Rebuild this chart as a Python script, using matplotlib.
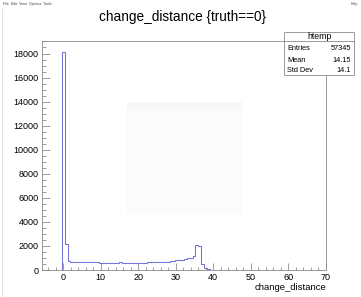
import numpy as np
import matplotlib
matplotlib.use("Agg")
import matplotlib.pyplot as plt
from matplotlib.patches import Rectangle
from matplotlib.ticker import MultipleLocator

# histogram "htemp": 100 bins on [-5.6, 70]
x_min, x_max, n_bins = -5.6, 70.0, 100
counts = [
    0, 0, 0, 0, 0, 0, 0,
    18130, 2150,
    720, 690, 680, 670, 700, 650, 680, 640, 650, 630,
    640, 620, 610, 620, 590, 580, 560, 590, 630, 600,
    590, 600, 590, 600, 600, 610, 600, 620, 640, 630,
    660, 650, 680, 670, 700, 690, 720, 740, 800, 830,
    870, 900, 980, 1020, 1150,
    2080, 2030, 480, 180,
    50, 40, 40, 30, 30,
]
counts = counts + [0] * (n_bins - len(counts))
edges = np.linspace(x_min, x_max, n_bins + 1)

stats_rows = [("Entries", "57345"), ("Mean", "14.15"), ("Std Dev", "14.1")]
menu_items = "File  Edit  View  Options  Tools"

W, H = 361, 297
fig = plt.figure(figsize=(W / 100, H / 100), dpi=100)
fig.patch.set_facecolor("white")
plt.rcParams["font.family"] = ["Liberation Sans", "DejaVu Sans"]


def px(x, y):
    """pixel coords (from top-left) -> figure fraction"""
    return x / W, 1 - y / H


# faint ghost of a dialog behind the plot
fig.patches.append(Rectangle(px(127, 215), 115 / W, 113 / H, transform=fig.transFigure,
                             facecolor="#fbfbfb", edgecolor="none", zorder=0))
fig.patches.append(Rectangle(px(127, 109), 115 / W, 7 / H, transform=fig.transFigure,
                             facecolor="#f7f7f7", edgecolor="none", zorder=0))

# frame
left, top, right, bottom = 42, 41, 326, 270
ax = fig.add_axes([left / W, 1 - bottom / H, (right - left) / W, (bottom - top) / H])
ax.set_xlim(x_min, x_max)
ax.set_ylim(0, 19040)
ax.patch.set_alpha(0)

ax.stairs(counts, edges, color="#7474dc", linewidth=0.75)

for s in ax.spines.values():
    s.set_color("#8a8a8a")
    s.set_linewidth(0.6)

ax.xaxis.set_major_locator(MultipleLocator(10))
ax.xaxis.set_minor_locator(MultipleLocator(2))
ax.yaxis.set_major_locator(MultipleLocator(2000))
ax.yaxis.set_minor_locator(MultipleLocator(500))
ax.tick_params(axis="x", which="major", direction="in", length=5, width=0.5,
               color="#777777", labelsize=6.5, pad=2.5)
ax.tick_params(axis="x", which="minor", direction="in", length=2.5, width=0.5, color="#777777")
ax.tick_params(axis="y", which="major", direction="in", length=6, width=0.5,
               color="#777777", labelsize=6.5, pad=2.5)
ax.tick_params(axis="y", which="minor", direction="in", length=3, width=0.5, color="#777777")

# x axis title, right aligned like ROOT
fig.text(*px(326, 287), "change_distance", ha="right", va="center", fontsize=6.8)

# title
fig.text(*px(183, 17), "change_distance {truth==0}", ha="center", va="center", fontsize=9.8)

# menu bar
fig.text(*px(3, 4), menu_items, ha="left", va="center", fontsize=2.6, color="#444444")
fig.text(*px(358, 4), "Help", ha="right", va="center", fontsize=2.6, color="#444444")
fig.add_artist(plt.Line2D([2 / W, 2 / W], [0, 1 - 9 / H], transform=fig.transFigure,
                          color="#dddddd", linewidth=0.6))

# stats box
bx0, by0, bx1, by1 = 284, 32, 354, 75
fig.patches.append(Rectangle(px(bx0, by1), (bx1 - bx0) / W, (by1 - by0) / H,
                             transform=fig.transFigure, facecolor="white",
                             edgecolor="#8a8a8a", linewidth=0.6, zorder=5))
fig.add_artist(plt.Line2D([bx0 / W, bx1 / W], [1 - 40.5 / H] * 2, transform=fig.transFigure,
                          color="#8a8a8a", linewidth=0.6, zorder=6))
fig.text(*px(319, 36.5), "htemp", ha="center", va="center", fontsize=6.3, zorder=7)
for i, (name, val) in enumerate(stats_rows):
    yy = 49 + i * 11
    fig.text(*px(287, yy), name, ha="left", va="center", fontsize=5.3, zorder=7)
    fig.text(*px(351, yy), val, ha="right", va="center", fontsize=5.3, zorder=7)

fig.savefig("out.png", dpi=100)
